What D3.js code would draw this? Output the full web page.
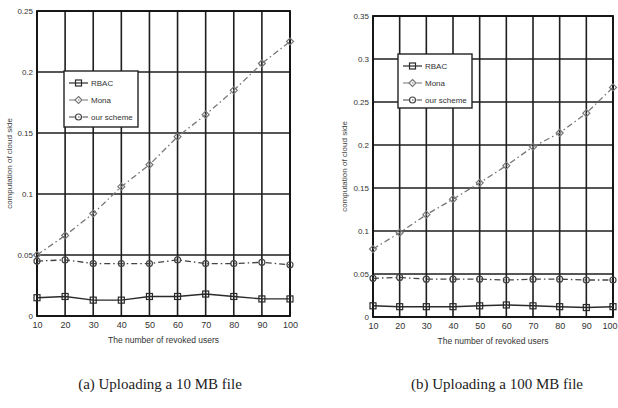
<!DOCTYPE html>
<html>
<head>
<meta charset="utf-8">
<script src="https://cdn.jsdelivr.net/npm/d3@7/dist/d3.min.js"></script>
<style>
  html, body { margin: 0; padding: 0; background: #fff; }
  svg { display: block; }
</style>
</head>
<body>
<svg id="chart" width="618" height="408"></svg>
<script>
// Number of revoked users (x axis, both panels)
const users = [10, 20, 30, 40, 50, 60, 70, 80, 90, 100];
const seriesNames = ["RBAC", "Mona", "our scheme"];

// Panel (a): uploading a 10 MB file
const rbacA = [0.015, 0.016, 0.013, 0.013, 0.016, 0.016, 0.018, 0.016, 0.014, 0.014];
const monaA = [0.050, 0.066, 0.084, 0.106, 0.124, 0.147, 0.165, 0.185, 0.207, 0.225];
const oursA = [0.045, 0.046, 0.043, 0.043, 0.043, 0.046, 0.043, 0.043, 0.044, 0.042];
const yTicksA = [0, 0.05, 0.1, 0.15, 0.2, 0.25];

// Panel (b): uploading a 100 MB file
const rbacB = [0.013, 0.012, 0.012, 0.012, 0.013, 0.014, 0.013, 0.012, 0.011, 0.012];
const monaB = [0.079, 0.098, 0.119, 0.137, 0.156, 0.176, 0.198, 0.214, 0.237, 0.267];
const oursB = [0.045, 0.046, 0.044, 0.044, 0.044, 0.043, 0.044, 0.044, 0.043, 0.043];
const yTicksB = [0, 0.05, 0.1, 0.15, 0.2, 0.25, 0.3, 0.35];

const captions = ["(a) Uploading a 10 MB file", "(b) Uploading a 100 MB file"];
const xTitle = "The number of revoked users";
const yTitle = "computation of cloud side";

const svg = d3.select("#chart");

const styles = [
  { color: "#2a2a2a", dash: null, marker: "square", width: 1.4 },
  { color: "#777", dash: "6,3,1.5,3", marker: "diamond", width: 1.3 },
  { color: "#444", dash: "6,3,1.5,3", marker: "circle", width: 1.3 }
];

function marker(g, type, x, y, color) {
  if (type === "square") {
    g.append("rect").attr("x", x - 3).attr("y", y - 3).attr("width", 6).attr("height", 6)
      .attr("fill", "none").attr("stroke", color).attr("stroke-width", 1.2);
  } else if (type === "diamond") {
    g.append("path").attr("d", `M${x},${y - 3.5}L${x + 3.5},${y}L${x},${y + 3.5}L${x - 3.5},${y}Z`)
      .attr("fill", "none").attr("stroke", color).attr("stroke-width", 1.2);
  } else {
    g.append("circle").attr("cx", x).attr("cy", y).attr("r", 3)
      .attr("fill", "none").attr("stroke", color).attr("stroke-width", 1.2);
  }
}

const sans = "Liberation Sans Narrow, Liberation Sans, sans-serif";

function drawPanel(p) {
  const g = svg.append("g");
  const x = d3.scaleLinear().domain([10, 100]).range([p.left, p.right]);
  const y = d3.scaleLinear().domain([0, p.yMax]).range([p.bottom, p.top]);

  // grid
  g.selectAll(".vg").data(users).join("line")
    .attr("x1", d => x(d)).attr("x2", d => x(d))
    .attr("y1", p.top).attr("y2", p.bottom)
    .attr("stroke", "#1e1e1e").attr("stroke-width", 1.6);
  g.selectAll(".hg").data(p.yTicks).join("line")
    .attr("x1", p.left).attr("x2", p.right)
    .attr("y1", d => y(d)).attr("y2", d => y(d))
    .attr("stroke", "#1e1e1e").attr("stroke-width", 1.6);
  g.append("rect").attr("x", p.left).attr("y", p.top)
    .attr("width", p.right - p.left).attr("height", p.bottom - p.top)
    .attr("fill", "none").attr("stroke", "#111").attr("stroke-width", 1.8);

  // axes labels
  const xAxis = d3.axisBottom(x).tickValues(users).tickSize(0).tickPadding(6);
  const xa = g.append("g").attr("transform", `translate(0,${p.bottom})`).call(xAxis);
  xa.select(".domain").remove();
  xa.selectAll("text").attr("font-family", sans).attr("font-size", 9).attr("fill", "#333");
  if (p.clampLast) {
    // keep the last tick label inside the page edge
    xa.selectAll("text").filter(d => d === users[users.length - 1])
      .attr("text-anchor", "end").attr("x", 617 - p.right);
  }

  const yAxis = d3.axisLeft(y).tickValues(p.yTicks).tickSize(0).tickPadding(4)
    .tickFormat(d => d === 0 ? "0" : String(+d.toFixed(2)));
  const ya = g.append("g").attr("transform", `translate(${p.left},0)`).call(yAxis);
  ya.select(".domain").remove();
  ya.selectAll("text").attr("font-family", sans).attr("font-size", 8).attr("fill", "#333");

  g.append("text").attr("x", (p.left + p.right) / 2).attr("y", p.bottom + 27)
    .attr("text-anchor", "middle").attr("font-family", sans)
    .attr("font-size", 8.5).attr("fill", "#333").text(xTitle);
  g.append("text")
    .attr("transform", `translate(${p.yTitleX},${(p.top + p.bottom) / 2}) rotate(-90)`)
    .attr("text-anchor", "middle").attr("font-family", "Liberation Sans, sans-serif")
    .attr("font-size", 8).attr("fill", "#444").text(yTitle);

  // series
  const line = d3.line().x((d, i) => x(users[i])).y(d => y(d));
  p.series.forEach((vals, si) => {
    const s = styles[si];
    g.append("path").datum(vals).attr("d", line)
      .attr("fill", "none").attr("stroke", s.color).attr("stroke-width", s.width)
      .attr("stroke-dasharray", s.dash);
    vals.forEach((v, i) => marker(g, s.marker, x(users[i]), y(v), s.color));
  });

  // legend
  const lg = g.append("g");
  lg.append("rect").attr("x", p.leg.x).attr("y", p.leg.y).attr("width", p.leg.w).attr("height", p.leg.h)
    .attr("fill", "#fff").attr("stroke", "#222").attr("stroke-width", 1.4);
  seriesNames.forEach((name, i) => {
    const s = styles[i];
    const ly = p.leg.y + 12 + i * 17;
    lg.append("line").attr("x1", p.leg.x + 5).attr("x2", p.leg.x + 24).attr("y1", ly).attr("y2", ly)
      .attr("stroke", s.color).attr("stroke-width", 1.2).attr("stroke-dasharray", s.dash);
    marker(lg, s.marker, p.leg.x + 14.5, ly, s.color);
    lg.append("text").attr("x", p.leg.x + 27).attr("y", ly + 3)
      .attr("font-family", sans).attr("font-size", 8).attr("fill", "#333").text(name);
  });

  svg.append("text").attr("x", p.capX).attr("y", 389).attr("text-anchor", "middle")
    .attr("font-family", "Liberation Serif, serif").attr("font-size", 15).attr("fill", "#222")
    .text(p.caption);
}

drawPanel({
  left: 37, right: 290, top: 11, bottom: 316, yMax: 0.25, yTicks: yTicksA,
  series: [rbacA, monaA, oursA], yTitleX: 12, clampLast: false,
  leg: { x: 64, y: 71, w: 74, h: 56 }, caption: captions[0], capX: 160
});
drawPanel({
  left: 373, right: 613, top: 16, bottom: 317, yMax: 0.35, yTicks: yTicksB,
  series: [rbacB, monaB, oursB], yTitleX: 347, clampLast: true,
  leg: { x: 398, y: 54, w: 74, h: 54 }, caption: captions[1], capX: 497
});
</script>
</body>
</html>
